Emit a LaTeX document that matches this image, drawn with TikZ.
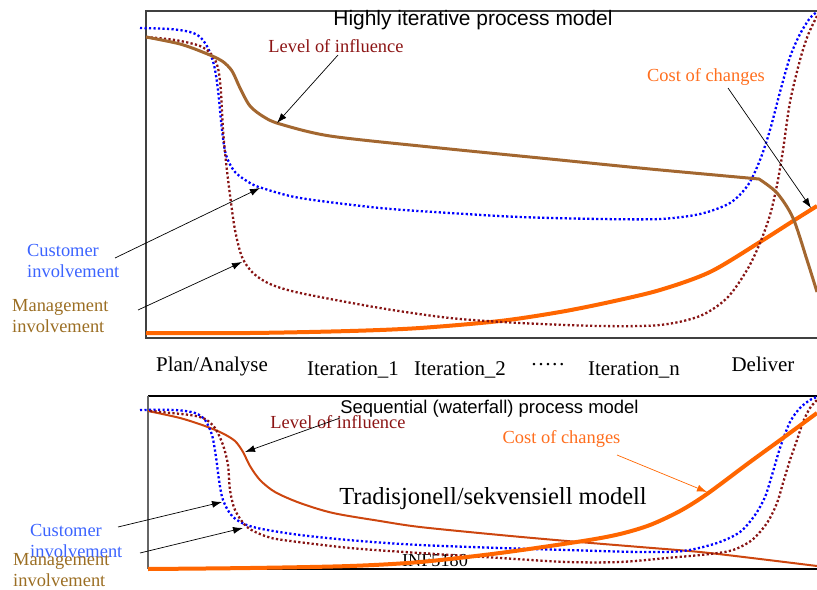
\documentclass[tikz,border=0pt]{standalone}
\usepackage{fontspec}
\setmainfont{Liberation Serif}
\setsansfont{Liberation Sans}
\usetikzlibrary{arrows.meta}

\definecolor{infbrown}{RGB}{163,103,48}
\definecolor{infred}{RGB}{205,70,15}
\definecolor{mgmtred}{RGB}{135,20,20}
\definecolor{custblue}{RGB}{0,0,255}
\definecolor{costorange}{RGB}{255,102,0}
\definecolor{costtext}{RGB}{255,110,30}
\definecolor{custtext}{RGB}{60,100,255}
\definecolor{mgmttext}{RGB}{155,110,35}
\definecolor{lvltext}{RGB}{140,20,20}

\tikzset{
  frame/.style={line width=1.2bp, draw=black!75},
  dotline/.style={line width=2.3bp, dash pattern=on 2.2bp off 2.3bp},
  costline/.style={line width=4bp, draw=costorange},
  pointer/.style={line width=0.7bp, -{Latex[length=10bp,width=7bp]}},
  lbl/.style={inner sep=0, font=\fontsize{18.5}{21.5}\selectfont, align=left},
  phase/.style={inner sep=0, anchor=base, font=\fontsize{21}{24}\selectfont},
}

\begin{document}
\begin{tikzpicture}[x=1bp, y=-1bp]
\useasboundingbox (0,0) rectangle (817,590);

% ---------------- iterative model ----------------
\draw[frame] (817,11) -- (146,11) -- (146,338) -- (817,338);
\node[inner sep=0, anchor=base, font=\sffamily\fontsize{21}{24}\selectfont] (titleTop) at (473,26) {Highly iterative process model};

% cost of changes
\draw[costline] plot[smooth] coordinates {(146,333) (250,333) (350,331) (420,328) (500,321) (560,312) (610,302) (660,290) (710,272) (760,242) (793,221) (817,206)};
% customer involvement
\draw[dotline, custblue] plot[smooth] coordinates {(140,28) (170,29) (190,32) (200,37) (208,48) (214,65) (218,90) (222,130) (226,155) (235,172) (250,183) (262,188) (300,198) (380,208) (450,213) (520,217) (600,219) (660,219) (700,214) (730,203) (748,185) (760,160) (770,130) (780,92) (790,57) (800,34) (810,18) (817,12)};
% management involvement
\draw[dotline, mgmtred] plot[smooth] coordinates {(146,37) (175,40) (200,46) (212,55) (218,68) (221,92) (223,130) (226,162) (230,195) (235,230) (242,257) (253,273) (270,284) (300,293) (380,308) (450,318) (520,323) (600,326) (660,325) (700,316) (727,298) (747,270) (760,243) (770,215) (777,185) (783,150) (790,102) (800,60) (808,35) (817,16)};
% level of influence
\draw[line width=3bp, infbrown, line join=round] plot[smooth] coordinates {(146,37) (180,44) (205,53) (222,61) (232,71) (240,88) (250,106) (264,117) (280,124) (330,136) (430,147) (550,159) (650,169) (759,179)}
  -- plot[smooth] coordinates {(759,179) (777,193) (793,218) (807,260) (817,292)};

\node[lbl, anchor=base, text=lvltext] (lvlTop) at (336,53) {Level of influence};
\node[lbl, anchor=base, text=costtext] (costTop) at (706,82) {Cost of changes};
\node[lbl, anchor=north west, text=custtext] (custTop) at (27,244) {Customer\\involvement};
\node[lbl, anchor=north west, text=mgmttext] (mgmtTop) at (12,299) {Management\\involvement};

\coordinate (lvlTopFrom) at (338,55);
\coordinate (lvlTopTo) at (277,123);
\coordinate (costTopFrom) at (728,88);
\coordinate (costTopTo) at (811,208);
\coordinate (custTopFrom) at (115,258);
\coordinate (custTopTo) at (260,188);
\coordinate (mgmtTopFrom) at (138,310);
\coordinate (mgmtTopTo) at (242,262);
\draw[pointer] (lvlTopFrom) -- (lvlTopTo);
\draw[pointer] (costTopFrom) -- (costTopTo);
\draw[pointer] (custTopFrom) -- (custTopTo);
\draw[pointer] (mgmtTopFrom) -- (mgmtTopTo);

% phases
\node[phase] (phPlan) at (212,371) {Plan/Analyse};
\node[phase] (phIt1) at (353,375) {Iteration\_1};
\node[phase] (phIt2) at (460,375) {Iteration\_2};
\node[phase] (phDots) at (548,371) {·····};
\node[phase] (phItn) at (634,375) {Iteration\_n};
\node[phase] (phDeliver) at (763,371) {Deliver};

% ---------------- sequential model ----------------
\begin{scope}
  \clip (148,396) rectangle (817,569);
  \node[inner sep=0, anchor=base, font=\fontsize{18.3}{21}\selectfont] (infBot) at (435,566) {INF5180};
\end{scope}
\draw[line width=1.2bp, black] (817,396) -- (148,396);
\draw[line width=1.2bp, black!60] (148,396) -- (148,569);
\draw[line width=1.2bp, black] (148,569) -- (817,569);
\node[inner sep=0, anchor=base, font=\sffamily\fontsize{18.5}{21}\selectfont] (titleBot) at (489.5,413) {Sequential (waterfall) process model};
\node[inner sep=0, anchor=base, font=\fontsize{24.6}{28}\selectfont] (tradBot) at (493,504) {Tradisjonell/sekvensiell modell};

% level of influence
\draw[line width=2bp, infred] plot[smooth] coordinates {(148,411) (180,418) (205,426) (222,433) (235,441) (243,452) (250,466) (260,480) (275,492) (300,503) (333,513) (380,521) (420,527) (500,535) (567,541) (640,547) (700,552) (760,559) (817,566)};
% customer involvement
\draw[dotline, custblue] plot[smooth] coordinates {(140,410) (175,410) (195,413) (205,420) (212,435) (216,457) (219,480) (223,500) (233,517) (253,527) (300,535) (360,541) (420,545) (500,548) (567,550) (640,552) (683,551) (717,543) (740,532) (755,515) (765,497) (772,475) (780,448) (790,422) (800,408) (810,400) (817,397)};
% management involvement
\draw[dotline, mgmtred] plot[smooth] coordinates {(150,411) (190,415) (205,419) (215,428) (223,445) (228,465) (230,490) (235,510) (247,527) (265,536) (283,540) (350,548) (420,553) (500,558) (567,562) (620,562) (667,558) (710,554) (733,550) (752,540) (767,523) (777,503) (783,483) (790,460) (797,440) (803,422) (810,408) (817,400)};
% cost of changes
\draw[costline] plot[smooth] coordinates {(148,569) (250,568) (350,566) (420,562) (500,553) (583,541) (620,534) (650,525) (680,511) (707,494) (750,462) (783,438) (817,413)};

\node[lbl, anchor=base, text=lvltext] (lvlBot) at (338,428) {Level of influence};
\node[lbl, anchor=base, text=costtext] (costBot) at (561.5,443) {Cost of changes};
\node[lbl, anchor=north west, text=custtext] (custBot) at (30,524) {Customer\\involvement};
\node[lbl, anchor=north west, text=mgmttext] (mgmtBot) at (13,553) {Management\\involvement};

\coordinate (lvlBotFrom) at (340,418);
\coordinate (lvlBotTo) at (245,452);
\coordinate (costBotFrom) at (617,455);
\coordinate (costBotTo) at (707,492);
\coordinate (custBotFrom) at (118,527);
\coordinate (custBotTo) at (222,502);
\coordinate (mgmtBotFrom) at (140,553);
\coordinate (mgmtBotTo) at (243,528);
\draw[pointer] (lvlBotFrom) -- (lvlBotTo);
\draw[pointer, costorange] (costBotFrom) -- (costBotTo);
\draw[pointer] (custBotFrom) -- (custBotTo);
\draw[pointer] (mgmtBotFrom) -- (mgmtBotTo);
\end{tikzpicture}
\end{document}
